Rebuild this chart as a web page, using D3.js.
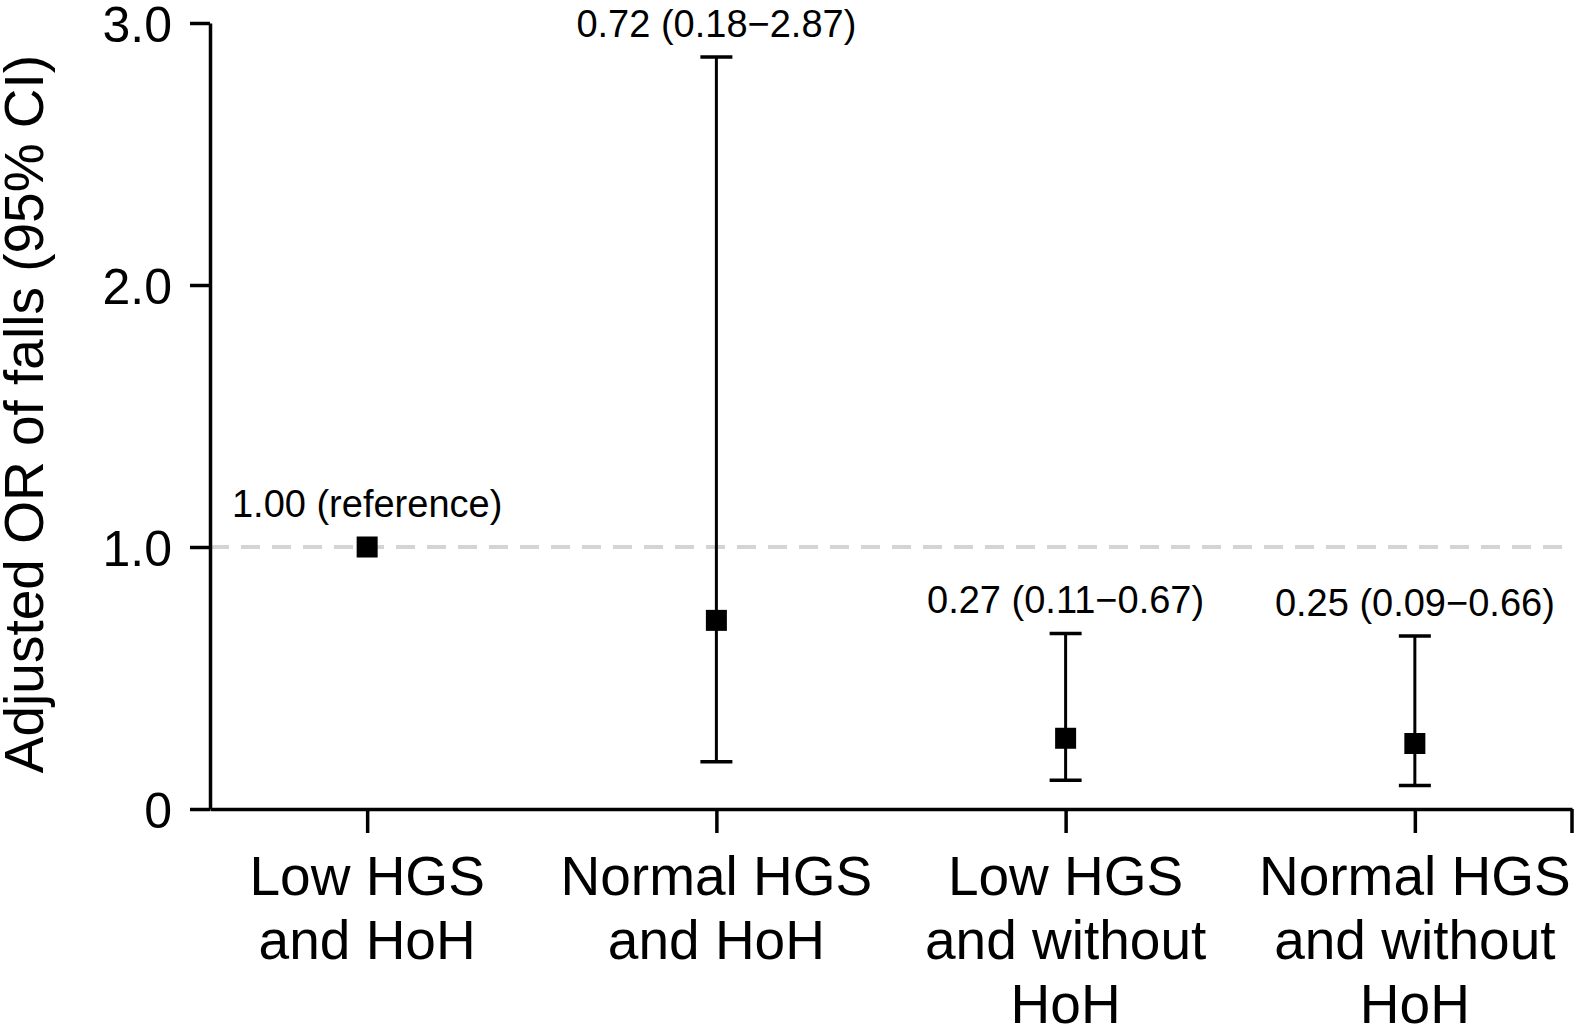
<!DOCTYPE html>
<html>
<head>
<meta charset="utf-8">
<script src="https://cdn.jsdelivr.net/npm/d3@7"></script>
<style>
  body { margin: 0; background: #fff; }
  text { font-family: "Liberation Sans", Arial, sans-serif; fill: #000; }
</style>
</head>
<body>
<div id="chart"></div>
<script>
// data
var groups = ["g1", "g2", "g3", "g4"];
var groupLabels = [
  ["Low HGS", "and HoH"],
  ["Normal HGS", "and HoH"],
  ["Low HGS", "and without", "HoH"],
  ["Normal HGS", "and without", "HoH"]
];
var orValues = [1.00, 0.72, 0.27, 0.25];
var ciLow = [null, 0.18, 0.11, 0.09];
var ciHigh = [null, 2.87, 0.67, 0.66];
var annotations = ["1.00 (reference)", "0.72 (0.18\u22122.87)", "0.27 (0.11\u22120.67)", "0.25 (0.09\u22120.66)"];
var yTicks = [0, 1, 2, 3];

var svgWidth = 1584;
var svgHeight = 1035;

var svg = d3.select("#chart")
  .append("svg")
  .attr("width", svgWidth)
  .attr("height", svgHeight);

svg.append("rect").attr("width", svgWidth).attr("height", svgHeight).attr("fill", "#fff");

var xScale = d3.scalePoint()
  .domain(groups)
  .range([210, 1572])
  .padding(0.45);

var yScale = d3.scaleLinear()
  .domain([0, 3])
  .range([809, 23]);

var rows = groups.map(function(g, i) {
  return { key: g, or: orValues[i], lo: ciLow[i], hi: ciHigh[i], note: annotations[i], label: groupLabels[i] };
});

// reference line at 1.0
svg.append("line")
  .attr("x1", 210)
  .attr("x2", 1572)
  .attr("y1", yScale(1))
  .attr("y2", yScale(1))
  .attr("stroke", "#d4d4d4")
  .attr("stroke-width", 4)
  .attr("stroke-dasharray", "19 12");

// y axis
var yAxis = svg.append("g")
  .attr("transform", "translate(210,0)")
  .call(d3.axisLeft(yScale)
    .tickValues(yTicks)
    .tickSize(20)
    .tickSizeOuter(0)
    .tickPadding(18)
    .tickFormat(function(d) { return d === 0 ? "0" : d.toFixed(1); }));

yAxis.selectAll("text").attr("font-size", 50).attr("dy", "0.36em");

// x axis
var xAxis = svg.append("g")
  .attr("transform", "translate(0,809)")
  .call(d3.axisBottom(xScale).tickSize(24).tickSizeOuter(0).tickFormat(""));

svg.append("line")
  .attr("x1", 1572).attr("x2", 1572)
  .attr("y1", 809).attr("y2", 833)
  .attr("stroke", "#000").attr("stroke-width", 3.5);

svg.selectAll(".domain, .tick line").attr("stroke", "#000").attr("stroke-width", 3.5);

// category labels
var cat = svg.selectAll(".cat")
  .data(rows)
  .enter()
  .append("text")
  .attr("class", "cat")
  .attr("text-anchor", "middle")
  .attr("font-size", 55);

cat.selectAll("tspan")
  .data(function(d) { return d.label.map(function(l) { return { x: xScale(d.key), t: l }; }); })
  .enter()
  .append("tspan")
  .attr("x", function(d) { return d.x; })
  .attr("y", function(d, i) { return 895 + i * 64; })
  .text(function(d) { return d.t; });

// error bars
var withCI = rows.filter(function(d) { return d.lo !== null; });

svg.selectAll(".ci")
  .data(withCI)
  .enter()
  .append("line")
  .attr("x1", d => xScale(d.key))
  .attr("x2", d => xScale(d.key))
  .attr("y1", d => yScale(d.lo))
  .attr("y2", d => yScale(d.hi))
  .attr("stroke", "#000")
  .attr("stroke-width", 3);

["lo", "hi"].forEach(function(k) {
  svg.selectAll(".cap-" + k)
    .data(withCI)
    .enter()
    .append("line")
    .attr("x1", d => xScale(d.key) - 16)
    .attr("x2", d => xScale(d.key) + 16)
    .attr("y1", d => yScale(d[k]))
    .attr("y2", d => yScale(d[k]))
    .attr("stroke", "#000")
    .attr("stroke-width", 3.5);
});

// point estimates
svg.selectAll(".pt")
  .data(rows)
  .enter()
  .append("rect")
  .attr("x", d => xScale(d.key) - 10.5)
  .attr("y", d => yScale(d.or) - 10.5)
  .attr("width", 21)
  .attr("height", 21)
  .attr("fill", "#000");

// annotations
svg.selectAll(".note")
  .data(rows)
  .enter()
  .append("text")
  .attr("text-anchor", "middle")
  .attr("font-size", 38)
  .attr("x", d => xScale(d.key))
  .attr("y", d => (d.hi !== null ? yScale(d.hi) : yScale(d.or) - 10) - 20)
  .text(d => d.note);

// y axis title
svg.append("text")
  .attr("transform", "translate(43,414) rotate(-90)")
  .attr("text-anchor", "middle")
  .attr("font-size", 55)
  .text("Adjusted OR of falls (95% CI)");
</script>
</body>
</html>
